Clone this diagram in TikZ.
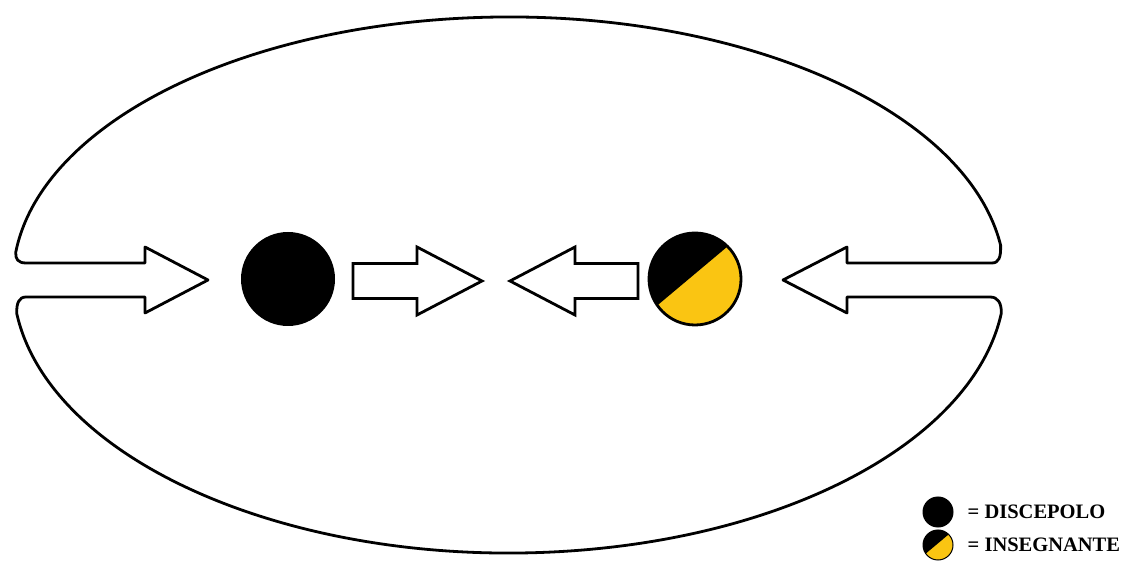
\documentclass[tikz,border=0pt]{standalone}
\usepackage{fontspec}
\setmainfont{Liberation Serif}
\usetikzlibrary{positioning}
\definecolor{insyellow}{RGB}{250,197,18}

\begin{document}
\begin{tikzpicture}[
  x=1pt, y=1pt,
  every node/.style={font=\bfseries\fontsize{20.5}{25}\selectfont},
  outline/.style={draw=black, line width=2.8pt, line join=round},
  flowarrow/.style={draw=black, fill=white, line width=2.8pt, line join=miter},
  discbox/.style={circle, draw=black, fill=black, line width=2pt, minimum size=92pt, inner sep=0pt},
  insbox/.style={circle, draw=black, fill=insyellow, line width=2.8pt, minimum size=92pt, inner sep=0pt,
    path picture={\fill[black] (path picture bounding box.center) ++(130:#1) ++(220:80)
      -- ++(40:160) -- ++(130:80) -- ++(220:160) -- cycle;}},
  legdiscbox/.style={discbox, minimum size=30pt, line width=1pt},
  leginsbox/.style={insbox=#1, minimum size=30pt, line width=1pt},
  legendtext/.style={inner sep=0pt, anchor=west},
]
\useasboundingbox (0,0) rectangle (1123,567);

%% Outline: two halves joined by the outer arrows
\draw[outline] (145,304) -- (145,320) -- (208,287) -- (145,254) -- (145,270) -- (26,270)
  .. controls (19,270) and (16.5,264) .. (16.7,253.7)
  arc[start angle=187, end angle=353, x radius=496, y radius=273]
  .. controls (1001.5,264) and (998,270) .. (990,270) -- (847,270) -- (847,254) -- (783,287)
  -- (847,320) -- (847,304) -- (992,304)
  .. controls (999,304) and (1001,310) .. (1000.6,321.8)
  arc[start angle=7.6, end angle=174, x radius=496, y radius=263]
  .. controls (15.5,308) and (18,304) .. (26,304) -- cycle;

%% Circles
\node[discbox] (disc) at (288,288) {};
\node[insbox=4] (ins) at (695,288) {};

%% Middle arrows
\draw[flowarrow] (353,268.5) -- (353,303.5) -- (417,303.5) -- (417,320) -- (482,286)
  -- (417,252) -- (417,268.5) -- cycle;
\draw[flowarrow] (638,268.5) -- (638,303.5) -- (575,303.5) -- (575,320) -- (510,286)
  -- (575,252) -- (575,268.5) -- cycle;

%% Legend
\node[legdiscbox] (legdisc) at (938,55) {};
\node[leginsbox=1.3] (legins) at (938,22) {};
\node[legendtext, right=14pt of legdisc] (legdisctext) {= DISCEPOLO};
\node[legendtext, right=14pt of legins] (leginstext) {= INSEGNANTE};

\end{tikzpicture}
\end{document}
